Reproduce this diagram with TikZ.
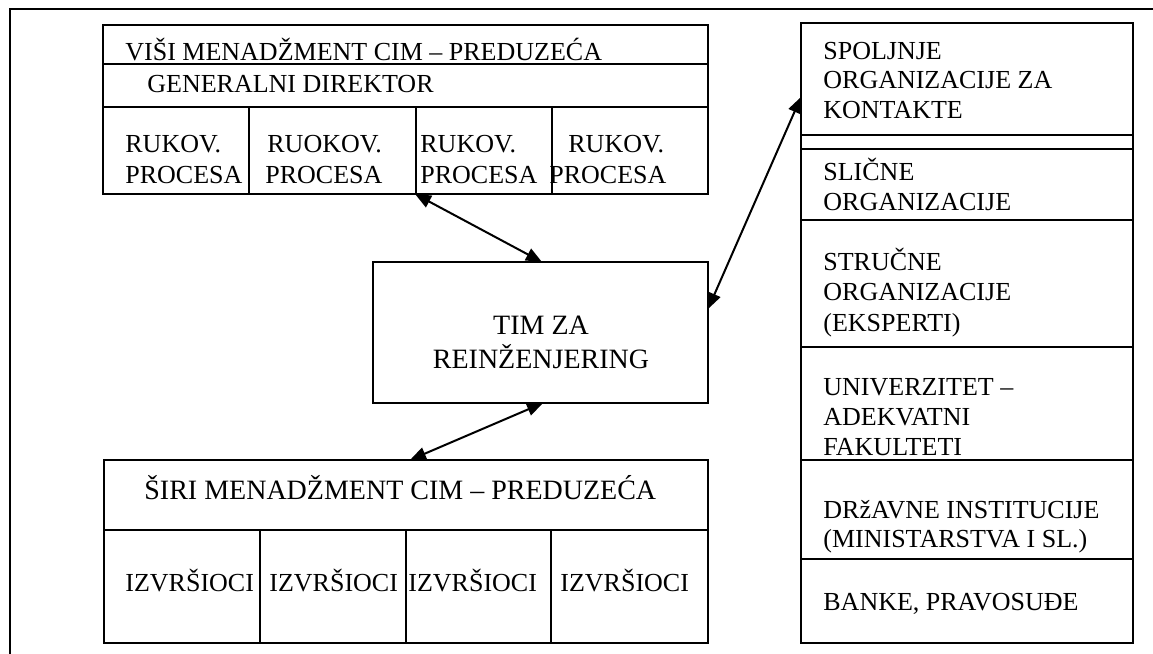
\documentclass[tikz,border=0pt]{standalone}
\usepackage{fontspec}
\setmainfont{Liberation Serif}
\usetikzlibrary{arrows.meta,fit}
\newcommand\txtsm{\fontsize{13}{15}\selectfont}
\newcommand\txtlg{\fontsize{14}{17}\selectfont}
\begin{document}
\begin{tikzpicture}[x=0.5pt,y=-0.5pt,
  frameline/.style={line width=1pt},
  box/.style={draw, line width=1pt, inner sep=0pt},
  divline/.style={line width=0.8pt},
  lbl/.style={anchor=base west, inner sep=0pt, font=\txtsm},
  lblc/.style={anchor=base, inner sep=0pt, font=\txtlg},
  conn/.style={line width=1pt, {Triangle[length=8pt,width=6.5pt]}-{Triangle[length=8pt,width=6.5pt]}}]
\useasboundingbox (0,0) rectangle (1153,654);

% page frame
\draw[frameline] (10,654) -- (10,9) -- (1153,9);

% upper management box
\node[box, fit={(103,25) (708,194)}] (upper) {};
\draw[divline] (103,64) -- (708,64);
\draw[divline] (103,107) -- (708,107);
\draw[divline] (249,107) -- (249,194);
\draw[divline] (416,107) -- (416,194);
\draw[divline] (552,107) -- (552,194);
\node[lbl] (uhead) at (125,60) {VIŠI MENADŽMENT CIM – PREDUZEĆA};
\node[lbl] (udir) at (147,92) {GENERALNI DIREKTOR};
\node[lbl] (ua1) at (125,152) {RUKOV.};
\node[lbl] (ua2) at (125,183) {PROCESA};
\node[lbl] (ub1) at (267,152) {RUOKOV.};
\node[lbl] (ub2) at (265,183) {PROCESA};
\node[lbl] (uc1) at (420,152) {RUKOV.};
\node[lbl] (uc2) at (420,183) {PROCESA};
\node[lbl] (ud1) at (568,152) {RUKOV.};
\node[lbl] (ud2) at (549,183) {PROCESA};

% reengineering team
\node[box, fit={(373,262) (708,403)}] (team) {};
\node[lblc] (team1) at (541,334) {TIM ZA};
\node[lblc] (team2) at (541,368) {REINŽENJERING};

% wider management box
\node[box, fit={(104,460) (708,643)}] (lower) {};
\draw[divline] (104,530) -- (708,530);
\draw[divline] (260,530) -- (260,643);
\draw[divline] (406,530) -- (406,643);
\draw[divline] (551,530) -- (551,643);
\node[lbl, font=\txtlg] (lhead) at (144,499) {ŠIRI MENADŽMENT CIM – PREDUZEĆA};
\node[lbl] (la) at (125,591) {IZVRŠIOCI};
\node[lbl] (lb) at (269,591) {IZVRŠIOCI};
\node[lbl] (lc) at (408,591) {IZVRŠIOCI};
\node[lbl] (ld) at (560,591) {IZVRŠIOCI};

% external organisations column
\node[box, fit={(801,23) (1133,643)}] (ext) {};
\foreach \yy in {135,149,220,347,460,559}
  \draw[divline] (801,\yy) -- (1133,\yy);
\node[lbl] (e1a) at (823,59) {SPOLJNJE};
\node[lbl] (e1b) at (823,88) {ORGANIZACIJE ZA};
\node[lbl] (e1c) at (823,118) {KONTAKTE};
\node[lbl] (e2a) at (823,180) {SLIČNE};
\node[lbl] (e2b) at (823,210) {ORGANIZACIJE};
\node[lbl] (e3a) at (823,270) {STRUČNE};
\node[lbl] (e3b) at (823,300) {ORGANIZACIJE};
\node[lbl] (e3c) at (823,331) {(EKSPERTI)};
\node[lbl] (e4a) at (823,395) {UNIVERZITET –};
\node[lbl] (e4b) at (823,425) {ADEKVATNI};
\node[lbl] (e4c) at (823,455) {FAKULTETI};
\node[lbl] (e5a) at (823,518) {DRžAVNE INSTITUCIJE};
\node[lbl] (e5b) at (823,547) {(MINISTARSTVA I SL.)};
\node[lbl] (e6a) at (823,610) {BANKE, PRAVOSUĐE};

% connector end points on the box edges
\coordinate (upperP) at (415,194);
\coordinate (teamN) at (542,262);
\coordinate (teamS) at (543,403);
\coordinate (lowerN) at (410,460);
\coordinate (teamE) at (708,309);
\coordinate (extW) at (801,97);

\draw[conn] (upperP) -- (teamN);
\draw[conn] (teamS) -- (lowerN);
\draw[conn] (teamE) -- (extW);
\end{tikzpicture}
\end{document}
